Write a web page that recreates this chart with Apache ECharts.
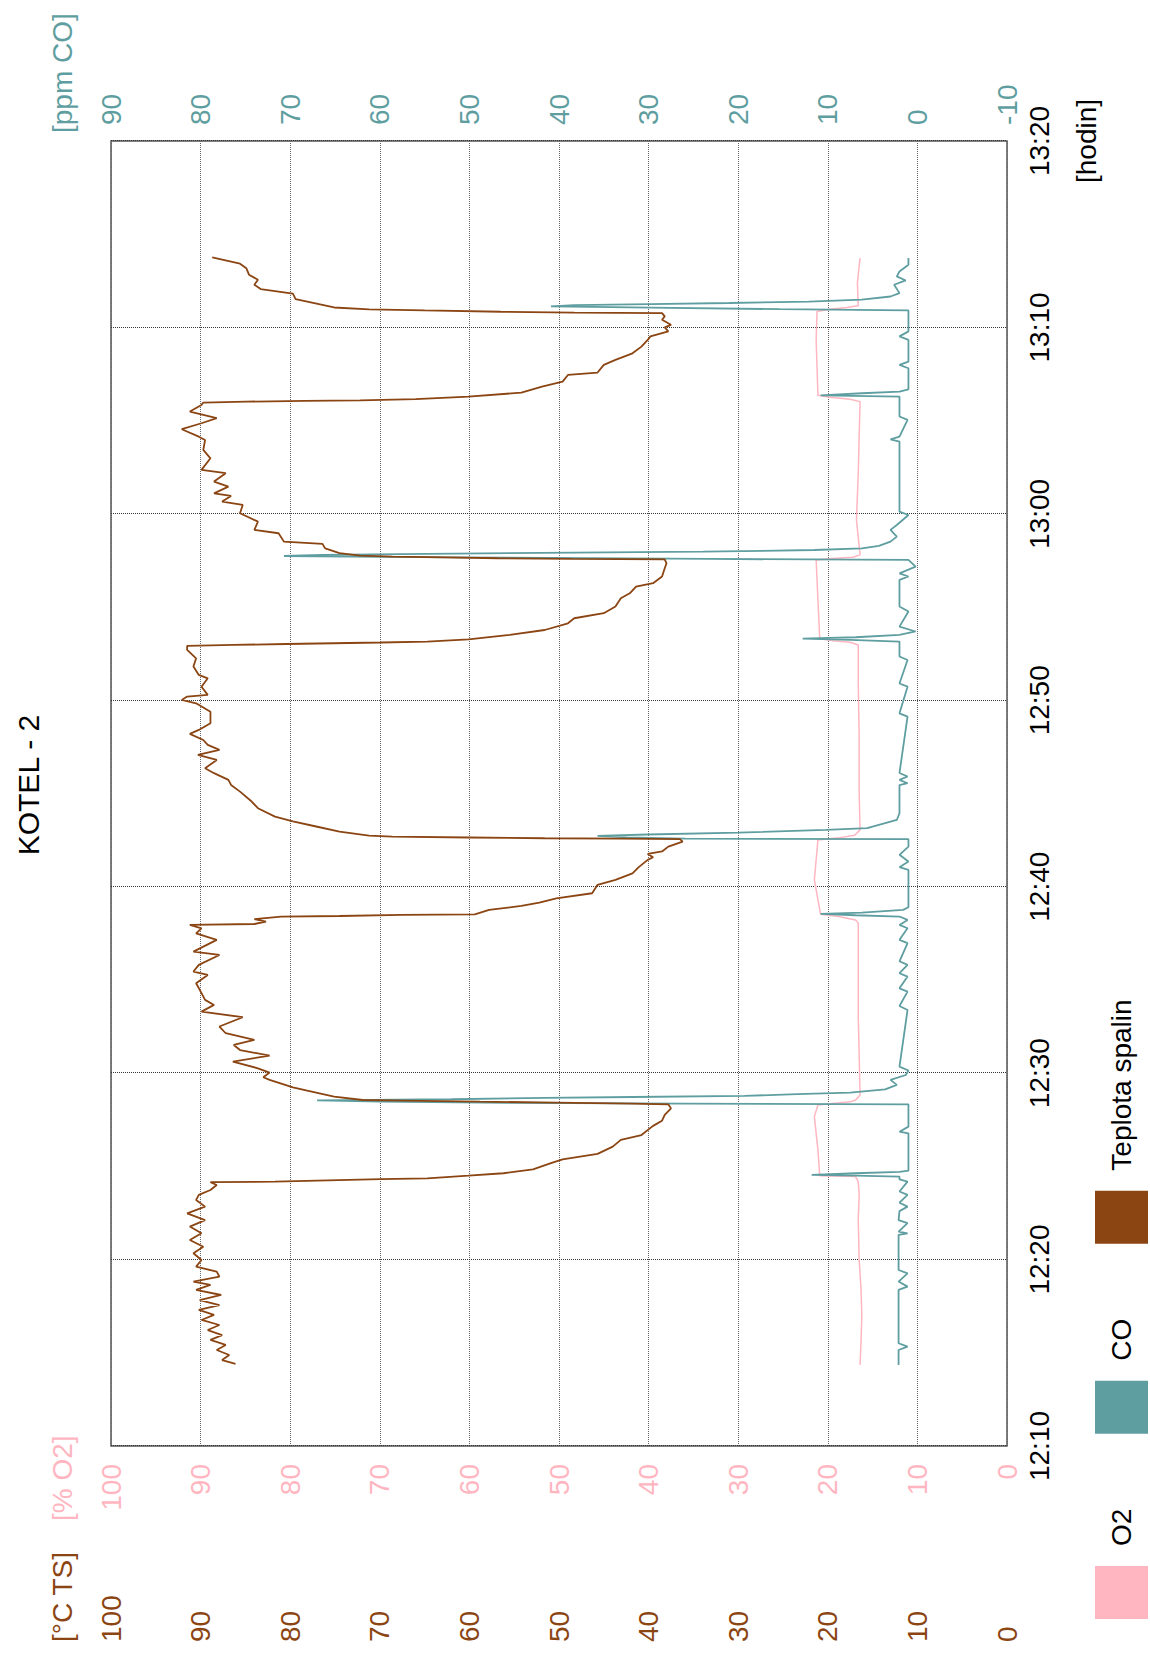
<!DOCTYPE html>
<html><head><meta charset="utf-8">
<script src="https://cdn.jsdelivr.net/npm/echarts@6.0.0/dist/echarts.min.js"></script>
<style>
html,body{margin:0;padding:0;width:1150px;height:1659px;overflow:hidden;background:#fff;}
#chart{position:absolute;left:0;top:0;width:1659px;height:1150px;transform-origin:0 0;transform:translateY(1659px) rotate(-90deg);}
</style></head><body><div id="chart"></div>
<script>
// time in minutes after 12:00
const timeTicks = [10, 20, 30, 40, 50, 60, 70, 80];
const seriesNames = ['O2', 'CO', 'Teplota spalin'];

// Teplota spalin [°C]
const tempData = [
[14.40,86.1],[14.61,87.6],[14.88,86.8],[15.15,88.2],[15.42,87.2],[15.69,88.9],[15.95,87.6],[16.22,89.2],[16.49,87.9],[16.76,89.9],[17.03,88.5],[17.30,90.2],[17.56,87.9],[17.83,90.1],[18.10,87.7],[18.37,90.5],[18.64,88.9],[18.82,90.8],[19.08,87.9],[19.35,88.2],[19.62,90.5],[19.98,89.9],[20.34,90.8],[20.69,89.7],[21.05,91.2],[21.41,89.9],[21.77,91.2],[22.12,89.5],
[22.48,91.5],[22.84,89.5],[23.20,90.5],[23.47,90.2],[23.73,88.9],[24.00,88.2],[24.15,88.9],
[24.18,81.7],[24.25,75.8],[24.31,69.9],[24.36,64.7],[24.50,60.1],[24.63,56.2],[24.84,52.9],[25.17,50.9],[25.38,49.6],[25.67,45.7],[26.06,44.0],[26.42,43.1],[26.68,40.8],[27.17,39.5],[27.45,38.5],[27.76,38.2],[28.11,37.5],[28.33,37.8],
[28.37,41.8],[28.42,50.3],[28.47,58.8],[28.53,67.3],[28.56,71.9],[28.74,75.1],[29.06,78.1],[29.24,79.7],[29.64,82.3],[29.78,83.0],[30.03,82.3],[30.26,83.6],[30.62,86.4],[30.94,82.3],[31.24,85.6],[31.51,86.3],[31.78,84.0],[32.14,87.2],[32.50,87.9],[33.00,85.3],[33.30,89.9],[33.66,88.5],[33.93,89.5],
[34.29,89.9],[34.82,90.5],[35.27,89.2],[35.45,90.8],[35.81,90.2],[36.34,87.9],[36.52,90.8],[37.15,88.2],[37.50,90.5],[37.77,89.9],[37.95,91.2],
[38.00,84.0],[38.13,82.7],[38.26,84.0],[38.40,81.0],[38.43,74.5],[38.49,67.6],[38.52,59.4],[38.76,57.8],[38.97,54.2],[39.15,52.2],[39.38,50.3],[39.65,46.3],[40.10,45.7],[40.37,43.7],[40.72,41.8],[41.05,41.1],[41.44,40.1],[41.58,39.5],[41.76,40.1],[41.89,38.5],[42.15,37.8],[42.42,36.2],[42.55,36.5],
[42.58,43.1],[42.60,51.6],[42.64,60.1],[42.69,68.6],[42.74,71.2],[42.96,74.5],[43.23,77.1],[43.50,79.7],[43.76,81.7],[44.21,83.6],[44.57,84.3],[45.10,85.6],[45.46,86.6],[45.73,86.9],
[46.09,88.5],[46.35,89.5],[46.80,88.2],[47.07,90.3],[47.34,87.9],[47.61,89.2],[47.87,89.7],[48.20,91.2],[48.41,90.2],[48.77,88.9],[49.39,88.9],[49.84,90.5],[50.02,92.1],[50.20,91.5],[50.29,89.2],[50.73,89.9],[51.18,89.2],[51.36,90.2],[51.81,90.8],[52.25,90.5],[52.70,91.5],[52.92,91.5],
[52.97,86.3],[53.02,80.4],[53.10,69.9],[53.15,64.7],[53.27,60.1],[53.51,55.5],[53.77,51.6],[54.13,49.0],[54.40,48.3],[54.67,45.0],[55.03,43.7],[55.47,43.1],[55.74,42.1],[56.10,41.4],[56.28,39.5],[56.64,38.5],[57.08,38.2],[57.35,38.0],[57.56,38.2],
[57.58,48.6],[57.62,56.8],[57.67,62.7],[57.71,68.6],[57.76,72.2],[57.89,74.5],[58.15,76.1],[58.39,76.4],[58.51,80.7],[58.96,81.3],[59.14,84.0],[59.58,83.6],[60.03,85.6],[60.48,85.3],[60.66,87.6],[60.96,86.6],[61.10,88.5],[61.46,86.9],[61.73,88.5],[62.18,87.2],[62.36,89.9],[62.98,88.9],[63.43,89.7],[63.96,89.5],[64.14,90.2],[64.54,92.1],[64.86,89.9],[65.13,88.2],[65.49,91.2],[65.84,89.9],[65.97,89.7],
[66.02,84.9],[66.06,78.4],[66.09,72.2],[66.15,66.0],[66.29,60.1],[66.50,54.2],[66.83,51.9],[67.09,49.6],[67.45,49.0],[67.58,45.7],[67.99,45.0],[68.26,43.7],[68.61,41.8],[68.97,40.8],[69.33,40.1],[69.52,39.8],[69.79,37.8],[70.00,38.2],[70.14,37.5],[70.41,38.5],[70.59,38.2],[70.77,38.5],
[70.79,48.3],[70.84,56.5],[70.91,65.0],[70.97,71.2],[71.07,75.1],[71.52,79.4],[71.81,79.7],[72.06,83.3],[72.29,84.0],[72.56,83.6],[72.83,84.6],[73.18,84.9],[73.42,85.6],[73.76,88.7]
];

// CO [ppm]
const coData = [
[14.35,2.1],[15.15,2.1],[15.33,1.1],[15.51,2.1],[18.37,2.1],[18.55,1.1],[18.82,2.1],[19.26,1.1],[19.44,2.1],[21.32,2.1],[21.41,1.1],[21.50,2.1],[21.95,1.1],[22.12,2.1],
[22.60,2.0],[22.84,1.1],[23.05,2.0],[23.47,1.1],[23.65,2.0],[24.18,1.1],[24.30,2.0],
[24.45,2.0],[24.50,6.9],[24.54,11.8],[24.63,6.9],[24.70,2.0],[24.77,1.0],[26.77,1.0],[26.86,2.0],[27.13,1.0],[28.33,1.0],
[28.37,25.9],[28.40,45.5],[28.47,59.9],[28.54,67.0],[28.60,52.0],[28.67,41.6],[28.72,31.8],[28.78,19.3],[28.87,13.4],[28.96,7.5],[29.13,3.6],[29.37,2.3],[29.64,3.0],[29.90,1.3],[30.14,1.0],[30.35,2.0],[33.39,1.1],[33.60,2.0],
[34.37,1.1],[34.55,2.0],[35.18,1.1],[35.36,2.0],[35.81,1.1],[36.00,2.0],[36.97,1.1],[37.15,2.0],[37.77,1.1],[37.95,2.0],[38.22,1.1],[38.40,2.0],
[38.47,6.9],[38.54,10.8],[38.61,6.2],[38.76,1.6],[38.90,1.0],[40.90,1.0],[41.05,2.0],[41.35,1.0],[41.71,2.0],[42.15,1.0],[42.55,1.0],
[42.58,25.9],[42.65,32.4],[42.73,35.7],[42.80,30.1],[42.90,20.0],[43.05,10.2],[43.14,5.6],[43.41,3.6],[43.58,2.3],[43.94,2.0],[45.45,2.0],[45.55,1.1],[45.73,2.0],
[45.91,1.1],[46.10,2.0],[49.12,1.1],[49.30,2.0],[50.73,1.1],[50.90,2.0],[52.16,1.1],[52.35,2.0],
[53.15,2.0],[53.24,7.5],[53.31,12.8],[53.38,6.9],[53.51,2.0],[53.69,0.2],[53.95,2.0],[54.76,1.0],[55.03,2.0],[56.46,2.0],[56.64,1.0],[56.81,2.0],[57.17,0.2],[57.53,1.0],
[57.58,23.2],[57.67,52.0],[57.74,70.7],[57.80,66.4],[57.85,54.7],[57.92,38.3],[57.97,23.9],[58.06,11.5],[58.15,6.2],[58.28,4.3],[58.51,3.0],[58.78,2.3],[59.14,3.0],[59.40,2.3],[59.94,1.0],[60.12,2.0],[63.88,2.0],[64.00,3.0],[64.14,2.0],[65.04,1.1],[65.22,2.0],
[66.29,2.0],[66.36,10.8],[66.47,6.2],[66.56,2.0],[66.68,1.0],[67.81,1.0],[67.99,2.0],[68.17,1.0],
[69.33,1.0],[69.52,2.0],[69.79,1.0],[70.91,1.0],[70.98,15.4],[71.06,29.8],[71.13,40.9],[71.20,38.3],[71.25,29.8],[71.31,21.0],[71.38,12.1],[71.49,6.2],[71.66,3.0],[71.84,2.0],[72.29,2.6],[72.52,1.3],[72.74,2.3],[73.00,2.0],[73.36,1.0],[73.72,1.0]
];

// O2 [%]
const o2Data = [
[14.35,16.4],[15.50,16.3],[17.00,16.2],[18.50,16.3],[20.00,16.5],[22.10,16.6],[23.50,16.5],[24.18,16.6],[24.45,16.9],[24.50,20.9],[25.88,21.1],[27.67,21.5],[28.29,21.1],[28.37,19.5],[28.46,17.5],[28.56,16.9],[28.83,16.4],
[31.00,16.5],[33.00,16.6],[35.00,16.6],[38.04,16.6],[38.22,16.9],[38.40,18.8],[38.52,20.8],[40.37,21.5],[42.51,21.1],[42.62,18.8],[42.76,17.0],[43.05,16.4],
[45.00,16.5],[48.00,16.5],[51.00,16.6],[52.97,16.6],[53.11,17.5],[53.20,19.5],[53.31,20.9],[55.38,21.1],[57.53,21.3],[57.60,19.5],[57.67,17.2],[57.80,16.4],
[59.67,16.8],[62.18,16.6],[66.02,16.4],[66.15,17.5],[66.25,19.8],[66.36,21.1],[69.33,21.3],[70.86,21.2],[70.98,19.8],[71.07,17.9],[71.16,16.6],[72.38,16.7],[73.72,16.4]
];

const FONT = '"Liberation Sans", Arial, Helvetica, sans-serif';
const BROWN = '#8B4513', TEAL = '#5F9EA0', PINK = '#FFB6C1';

function hhmm(v) {
  const h = 12 + Math.floor(v / 60);
  const m = Math.round(v % 60);
  return h + ':' + (m < 10 ? '0' : '') + m;
}

const chart = echarts.init(document.getElementById('chart'), null, {renderer: 'svg', width: 1659, height: 1150});
const lbl = {fontSize: 28, fontFamily: FONT};
chart.setOption({
  animation: false,
  backgroundColor: '#fff',
  title: {text: 'KOTEL - 2', left: 869, top: 8, textAlign: 'center',
    textStyle: {fontSize: 30, fontWeight: 'normal', color: '#000', fontFamily: FONT}},
  legend: {data: seriesNames, left: 40, top: 1095, padding: 0, itemWidth: 53, itemHeight: 53, itemGap: 75,
    icon: 'rect', textStyle: {fontSize: 28, fontFamily: FONT, color: '#000', padding: [0, 0, 0, 15]}},
  grid: {left: 213, right: 141, top: 111, bottom: 143, show: true, borderColor: '#555', borderWidth: 1.5},
  xAxis: {type: 'value', min: timeTicks[0], max: timeTicks[timeTicks.length - 1], interval: 10,
    axisLine: {show: false}, axisTick: {show: false},
    axisLabel: Object.assign({color: '#000', margin: 18, formatter: hhmm, showMinLabel: true, showMaxLabel: true}, lbl),
    splitLine: {show: true, lineStyle: {color: '#333', type: 'dotted', width: 1}}},
  yAxis: [
    {type: 'value', min: 0, max: 100, interval: 10, position: 'left', axisLine: {show: false}, axisTick: {show: false},
     axisLabel: Object.assign({color: BROWN, align: 'left', margin: 196}, lbl),
     splitLine: {show: true, lineStyle: {color: '#666', type: 'dotted', width: 1}}},
    {type: 'value', min: 0, max: 100, interval: 10, position: 'left', axisLine: {show: false}, axisTick: {show: false},
     axisLabel: Object.assign({color: PINK, align: 'right', margin: 18}, lbl), splitLine: {show: false}},
    {type: 'value', min: -10, max: 90, interval: 10, position: 'right', axisLine: {show: false}, axisTick: {show: false},
     axisLabel: Object.assign({color: TEAL, align: 'left', margin: 16}, lbl), splitLine: {show: false}}
  ],
  graphic: [
    {type: 'text', left: 17, top: 48, style: {text: '[°C TS]', fill: BROWN, fontSize: 28, fontFamily: FONT}},
    {type: 'text', left: 138, top: 48, style: {text: '[% O2]', fill: PINK, fontSize: 28, fontFamily: FONT}},
    {type: 'text', left: 1526, top: 48, style: {text: '[ppm CO]', fill: TEAL, fontSize: 28, fontFamily: FONT}},
    {type: 'text', left: 1476, top: 1072, style: {text: '[hodin]', fill: '#000', fontSize: 28, fontFamily: FONT}}
  ],
  series: [
    {name: 'O2', type: 'line', yAxisIndex: 1, data: o2Data, showSymbol: false, symbol: 'none',
     lineStyle: {color: PINK, width: 1.5}, itemStyle: {color: PINK}},
    {name: 'CO', type: 'line', yAxisIndex: 2, data: coData, showSymbol: false, symbol: 'none',
     lineStyle: {color: TEAL, width: 1.8}, itemStyle: {color: TEAL}},
    {name: 'Teplota spalin', type: 'line', yAxisIndex: 0, data: tempData, showSymbol: false, symbol: 'none',
     lineStyle: {color: BROWN, width: 1.8}, itemStyle: {color: BROWN}}
  ]
});
</script></body></html>
